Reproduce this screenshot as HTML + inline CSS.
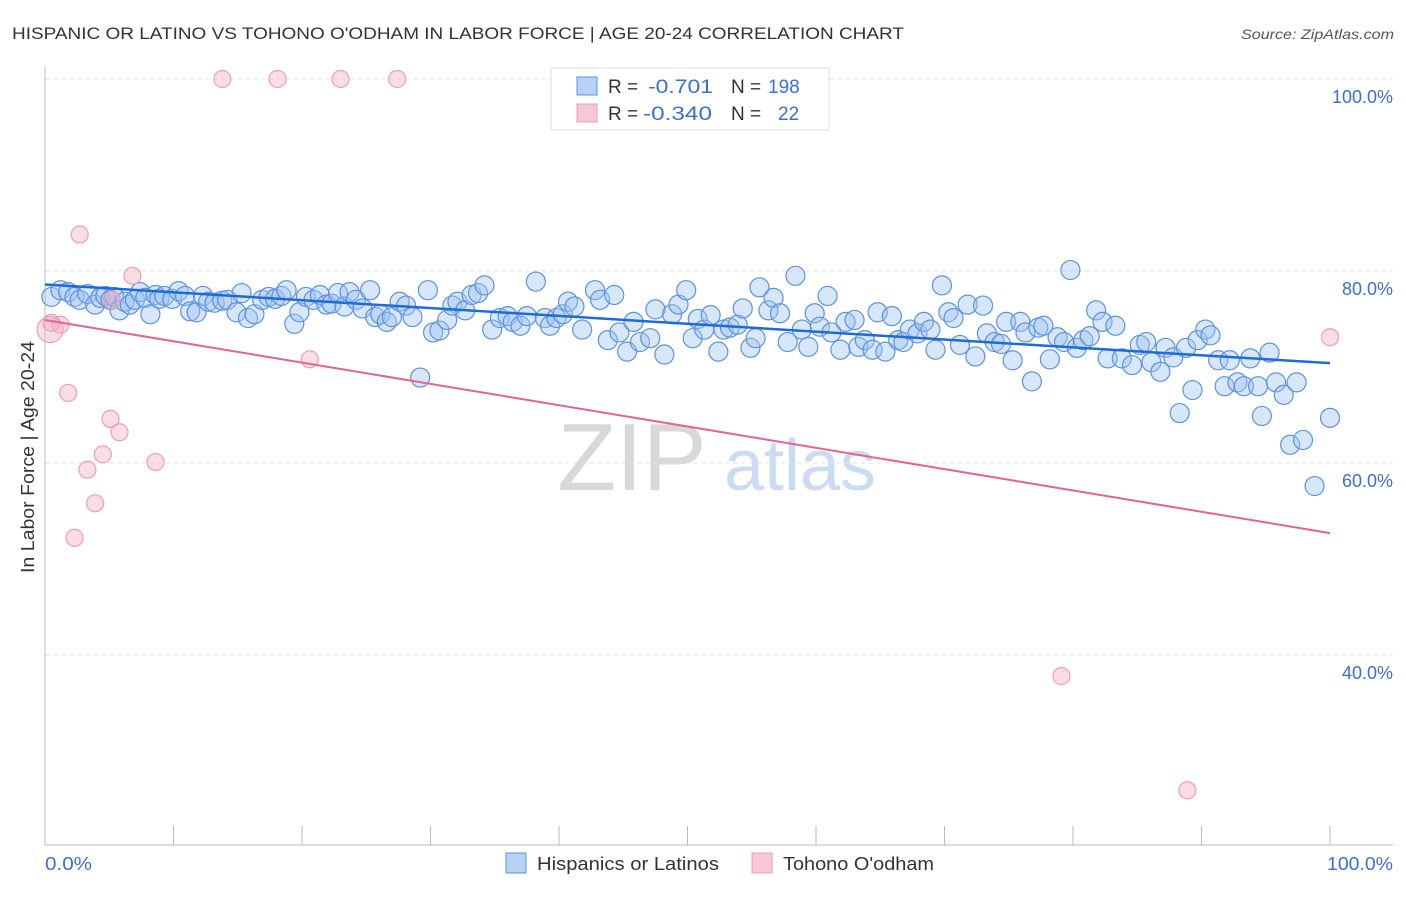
<!DOCTYPE html>
<html><head><meta charset="utf-8"><style>
body{margin:0;background:#fff;font-family:"Liberation Sans",sans-serif;}
svg text{font-family:"Liberation Sans",sans-serif;}
</style></head><body>
<svg width="1406" height="892" viewBox="0 0 1406 892">
<text x="12" y="39" font-size="17" fill="#333" textLength="892" lengthAdjust="spacingAndGlyphs">HISPANIC OR LATINO VS TOHONO O'ODHAM IN LABOR FORCE | AGE 20-24 CORRELATION CHART</text>
<text x="1241" y="39" font-size="14" fill="#555" font-style="italic" textLength="153" lengthAdjust="spacingAndGlyphs">Source: ZipAtlas.com</text>
<g>
<text x="632" y="490" font-size="96" fill="#d8d8d8" font-family="Liberation Serif,serif" text-anchor="middle">ZIP</text>
<text x="800" y="490" font-size="72" fill="#c9dcf3" text-anchor="middle">atlas</text>
</g>
<g id="grid"></g>
<line x1="45" y1="67" x2="45" y2="845" stroke="#bbb"/>
<line x1="45" y1="845" x2="1393" y2="845" stroke="#bbb"/>
<g id="xticks"></g>
<g id="pts"></g>
<g id="lines"></g>
<text x="0" y="0" transform="translate(34,457) rotate(-90)" font-size="18" fill="#333" text-anchor="middle" textLength="232" lengthAdjust="spacingAndGlyphs">In Labor Force | Age 20-24</text>
<text x="45" y="870" font-size="18" fill="#3b6fd4" textLength="47" lengthAdjust="spacingAndGlyphs">0.0%</text>
<text x="1327" y="870" font-size="18" fill="#3b6fd4" textLength="66" lengthAdjust="spacingAndGlyphs">100.0%</text>
<g>
<rect x="551" y="68" width="278" height="62" fill="#fff" stroke="#ddd"/>
<rect x="577" y="77" width="20" height="18" fill="#b8d2f5" stroke="#5b93e0"/>
<text x="608" y="93" font-size="19" fill="#333">R = </text><text x="648" y="93" font-size="19" fill="#3b6fd4" textLength="65" lengthAdjust="spacingAndGlyphs">-0.701</text>
<text x="731" y="93" font-size="19" fill="#333">N = </text><text x="768" y="93" font-size="19" fill="#3b6fd4">198</text>
<rect x="577" y="104" width="20" height="18" fill="#f8c6d4" stroke="#e9a0b5"/>
<text x="608" y="120" font-size="19" fill="#333">R = </text><text x="643" y="120" font-size="19" fill="#3b6fd4" textLength="69" lengthAdjust="spacingAndGlyphs">-0.340</text>
<text x="731" y="120" font-size="19" fill="#333">N = </text><text x="778" y="120" font-size="19" fill="#3b6fd4">22</text>
</g>
<g>
<rect x="506" y="853" width="20" height="20" fill="#b8d2f5" stroke="#5b93e0"/>
<text x="537" y="870" font-size="18" fill="#333" textLength="182" lengthAdjust="spacingAndGlyphs">Hispanics or Latinos</text>
<rect x="752" y="853" width="20" height="20" fill="#f8c6d4" stroke="#e9a0b5"/>
<text x="783" y="870" font-size="18" fill="#333" textLength="151" lengthAdjust="spacingAndGlyphs">Tohono O'odham</text>
</g>
</svg>
<script>
const yTicks=[100,80,60,40];
const yTickLabels=["100.0%","80.0%","60.0%","40.0%"];
const xTicks=[10,20,30,40,50,60,70,80,90,100];
const blueX=[0.5,1.2,1.8,2.3,2.7,3.3,3.9,4.3,4.7,5.1,5.4,5.8,6.2,6.6,7.0,7.4,7.8,8.2,8.6,8.9,9.3,9.9,10.4,10.9,11.3,11.8,12.3,12.7,13.2,13.8,14.2,14.9,15.3,15.8,16.3,16.9,17.4,17.9,18.4,18.8,19.4,19.8,20.3,20.9,21.4,21.9,22.3,22.8,23.3,23.7,24.2,24.7,25.3,25.7,26.1,26.6,27.0,27.6,28.1,28.6,29.2,29.8,30.2,30.7,31.3,31.7,32.1,32.7,33.2,33.7,34.2,34.8,35.4,36.0,36.4,37.0,37.5,38.2,38.9,39.3,39.8,40.3,40.7,41.2,41.8,42.8,43.2,43.8,44.3,44.7,45.3,45.8,46.3,47.1,47.5,48.2,48.8,49.3,49.9,50.4,50.8,51.3,51.8,52.4,52.8,53.3,53.9,54.3,54.9,55.3,55.6,56.3,56.7,57.2,57.8,58.4,58.9,59.4,59.9,60.3,60.9,61.2,61.9,62.3,63.0,63.3,63.8,64.4,64.8,65.4,65.9,66.4,66.8,67.3,67.9,68.4,68.9,69.3,69.8,70.3,70.7,71.2,71.8,72.4,73.0,73.3,73.9,74.4,74.8,75.3,75.9,76.3,76.8,77.3,77.7,78.2,78.8,79.3,79.8,80.3,80.8,81.3,81.8,82.3,82.7,83.3,83.8,84.6,85.2,85.7,86.1,86.8,87.2,87.8,88.3,88.8,89.3,89.7,90.3,90.7,91.3,91.8,92.2,92.8,93.3,93.8,94.4,94.7,95.3,95.8,96.4,96.9,97.4,97.9,98.8,100.0];
const blueY=[77.3,78.0,77.8,77.3,77.0,77.6,76.5,77.2,77.4,77.0,77.3,75.9,76.8,76.5,77.0,77.8,77.2,75.5,77.5,77.1,77.4,77.1,77.9,77.4,75.8,75.7,77.4,76.8,76.7,76.9,77.0,75.7,77.7,75.1,75.5,77.0,77.3,77.1,77.4,78.0,74.5,75.7,77.3,77.0,77.5,76.5,76.6,77.7,76.3,77.8,77.0,76.1,78.0,75.2,75.5,74.7,75.2,76.8,76.4,75.2,68.9,78.0,73.6,73.8,74.9,76.4,76.8,75.9,77.5,77.7,78.5,73.9,75.1,75.3,74.7,74.3,75.3,78.9,75.1,74.3,75.1,75.5,76.8,76.3,73.9,78.0,77.0,72.8,77.5,73.6,71.6,74.7,72.6,73.0,76.0,71.3,75.5,76.5,78.0,73.0,75.0,73.9,75.4,71.6,73.9,74.1,74.4,76.1,72.0,73.0,78.3,75.9,77.2,75.6,72.6,79.5,73.9,72.1,75.6,74.2,77.4,73.6,71.8,74.7,74.9,72.1,72.8,71.8,75.7,71.6,75.3,72.8,72.6,73.9,73.5,74.7,73.9,71.8,78.5,75.7,75.1,72.3,76.5,71.1,76.4,73.5,72.6,72.4,74.7,70.7,74.7,73.6,68.5,74.1,74.3,70.8,73.1,72.6,80.1,72.0,72.8,73.2,75.9,74.7,70.9,74.3,70.9,70.2,72.3,72.6,70.5,69.5,72.0,71.0,65.2,72.0,67.6,72.8,73.9,73.3,70.7,68.0,70.7,68.4,68.0,70.9,68.0,64.9,71.5,68.4,67.1,61.9,68.4,62.4,57.6,64.7];
const pinkX=[13.8,18.1,23.0,27.4,2.7,6.8,0.5,1.2,0.4,1.8,5.1,5.8,4.5,3.3,8.6,3.9,2.3,20.6,79.1,88.9,100,5.2];
const pinkY=[100,100,100,100,83.8,79.5,74.6,74.4,73.9,67.3,64.6,63.2,60.9,59.3,60.1,55.8,52.2,70.8,37.8,25.9,73.1,77.0];
const blueTrend=[78.6,70.4];
const pinkTrend=[74.9,52.7];
const NS='http://www.w3.org/2000/svg';
const sx=v=>45+v*12.85;
const sy=v=>1039-v*9.6;
function mk(t,a,p){const e=document.createElementNS(NS,t);for(const k in a)e.setAttribute(k,a[k]);p.appendChild(e);return e;}
const grid=document.getElementById('grid');
yTicks.forEach((v,i)=>{
 const l=mk('line',{x1:45,x2:1393,y1:sy(v),y2:sy(v),stroke:'#e2e2e2','stroke-dasharray':'4,4'},grid);
 
 
 const t=mk('text',{x:1393,y:sy(v)+24,'font-size':18,fill:'#3b6fd4','text-anchor':'end'},grid);
 t.textContent=yTickLabels[i];
 
 
});
const xt=document.getElementById('xticks');
xTicks.forEach(v=>{
 const l=mk('line',{x1:sx(v),x2:sx(v),y1:826,y2:845,stroke:'#bbb'},xt);
 
 
});
const pts=document.getElementById('pts');
blueX.forEach((x,i)=>{
 const c=mk('circle',{cx:sx(x),cy:sy(blueY[i]),r:9.5,fill:'rgba(160,196,240,0.42)',stroke:'#5b93e0','stroke-width':1.2},pts);
 
 
});
pinkX.forEach((x,i)=>{
 const c=mk('circle',{cx:sx(x),cy:sy(pinkY[i]),r:(i==8?13:8.5),fill:'rgba(245,170,190,0.4)',stroke:'#e9a0b5','stroke-width':1.2},pts);
 
 
});
const ln=document.getElementById('lines');
const b=mk('line',{x1:sx(0),x2:sx(100),y1:sy(blueTrend[0]),y2:sy(blueTrend[1]),stroke:'#1f6bd6','stroke-width':2.5},ln);


const p=mk('line',{x1:sx(0),x2:sx(100),y1:sy(pinkTrend[0]),y2:sy(pinkTrend[1]),stroke:'#e4648e','stroke-width':2},ln);


</script>
</body></html>
